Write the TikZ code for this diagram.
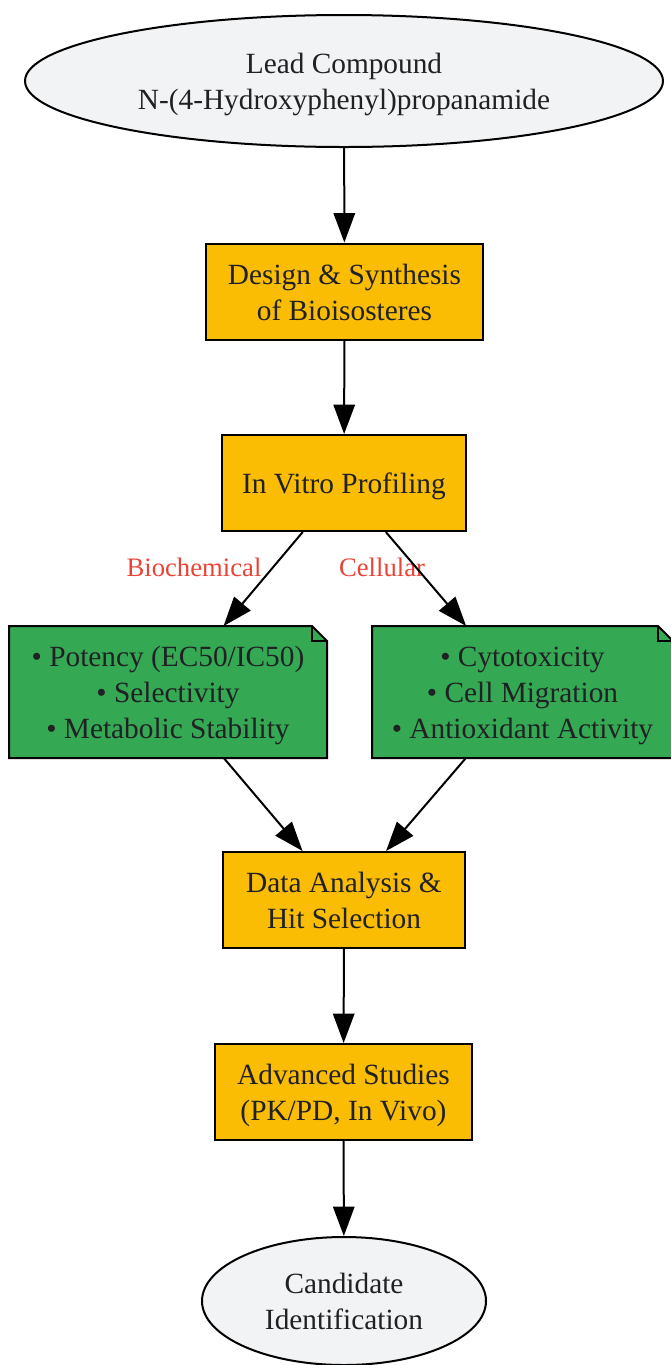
\documentclass[tikz,border=0pt]{standalone}
\usepackage{fontspec}
\setmainfont{Liberation Serif}
\usetikzlibrary{shapes.geometric,arrows.meta,backgrounds}
\definecolor{goldbox}{HTML}{FBBC04}
\definecolor{greenbox}{HTML}{34A853}
\definecolor{greyfill}{HTML}{F1F3F4}
\definecolor{inktext}{HTML}{202124}
\definecolor{labelred}{HTML}{EA4335}
\newcommand{\tstrut}{\rule{0pt}{21pt}}
\tikzset{
	basebox/.style={draw=black, line width=1.5pt, inner sep=0pt, align=center, text=inktext, font=\fontsize{22}{27}\selectfont,
		execute at end node={\rule[-5pt]{0pt}{5pt}}},
	endnode/.style={basebox, ellipse, fill=greyfill},
	stagebox/.style={basebox, rectangle, fill=goldbox, minimum height=72pt},
	assaynote/.style={basebox, rectangle, draw=none, minimum height=97.5pt},
	flow/.style={-{Triangle[length=22pt,width=16pt]}, line width=1.5pt},
	edgelabel/.style={text=labelred, font=\fontsize{20}{24}\selectfont, inner sep=0pt}
}
\def\notepaper#1{%
	\begin{scope}[on background layer]
		\draw[line width=1.5pt, fill=greenbox] (#1.south west) -- (#1.north west) -- ([xshift=-11.25pt]#1.north east) -- ([yshift=-11.25pt]#1.north east) -- (#1.south east) -- cycle;
		\draw[line width=1.5pt] ([xshift=-11.25pt]#1.north east) -- ([xshift=-11.25pt,yshift=-11.25pt]#1.north east) -- ([yshift=-11.25pt]#1.north east);
	\end{scope}}

\begin{document}
\begin{tikzpicture}[x=0.75pt, y=-0.75pt]
		%%%%% START %%%%%
		\useasboundingbox (0, 0) rectangle (671, 1365);
		
		\node[endnode, minimum width=478.5pt, minimum height=99pt] (lead) at (344, 81) {\tstrut Lead Compound\\N-(4-Hydroxyphenyl)propanamide};
		\node[stagebox, minimum width=207.75pt] (design) at (344.5, 291.5) {\tstrut Design \& Synthesis\\of Bioisosteres};
		\node[stagebox, minimum width=183pt] (profile) at (344, 483) {\tstrut In Vitro Profiling};
		
		\node[assaynote, minimum width=237pt] (biochem) at (168, 692) {\tstrut • Potency (EC50/IC50)\\• Selectivity\\• Metabolic Stability};
		\notepaper{biochem}
		\node[assaynote, minimum width=224.25pt] (cellular) at (522.5, 692) {\tstrut • Cytotoxicity\\• Cell Migration\\• Antioxidant Activity};
		\notepaper{cellular}
		
		\node[stagebox, minimum width=181.5pt] (analysis) at (344, 900) {\tstrut Data Analysis \&\\Hit Selection};
		\node[stagebox, minimum width=192.75pt] (advanced) at (343.5, 1092) {\tstrut Advanced Studies\\(PK/PD, In Vivo)};
		\node[endnode, minimum width=213pt, minimum height=96pt] (candidate) at (344, 1301) {\tstrut Candidate\\Identification};
		
		\node[edgelabel] (lblbio) at (194, 567) {Biochemical};
		\node[edgelabel] (lblcell) at (382, 567) {Cellular};
		
		\draw[flow] (lead) -- (design);
		\draw[flow] (design) -- (profile);
		\draw[flow] (profile) -- (biochem);
		\draw[flow] (profile) -- (cellular);
		\draw[flow] (biochem) -- (analysis);
		\draw[flow] (cellular) -- (analysis);
		\draw[flow] (analysis) -- (advanced);
		\draw[flow] (advanced) -- (candidate);
		
		%%%%% END %%%%%
\end{tikzpicture}
\end{document}
